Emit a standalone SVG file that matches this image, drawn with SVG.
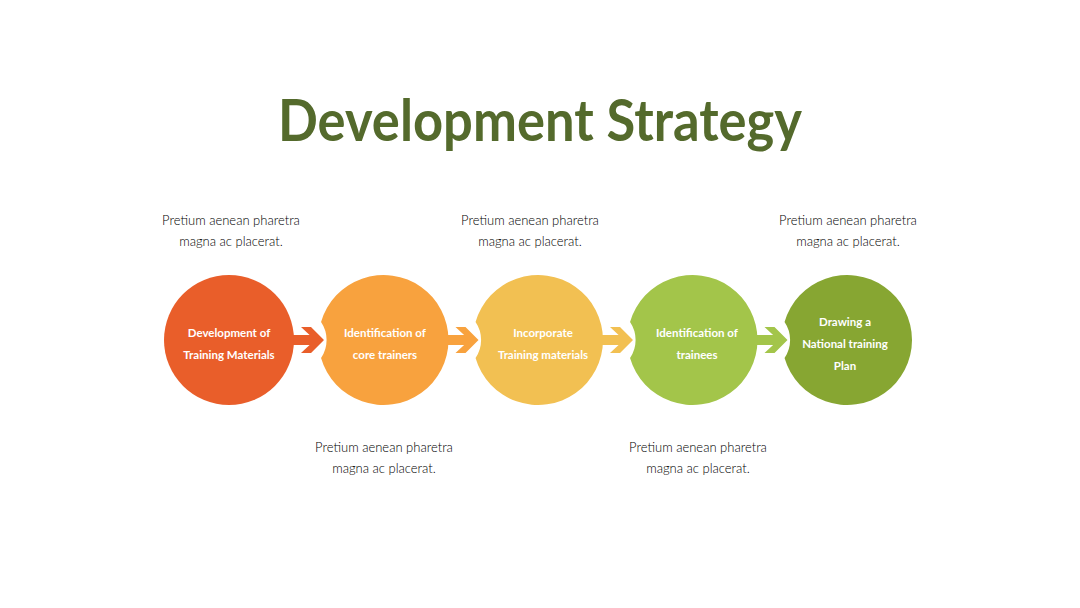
<svg xmlns="http://www.w3.org/2000/svg" width="1080" height="608" viewBox="0 0 1080 608">
<style>
.title{font-family:Lato,"Open Sans","Liberation Sans",sans-serif;font-weight:700;font-size:57px;fill:#546A2C}
.desc{font-family:Lato,"Open Sans","Liberation Sans",sans-serif;font-weight:300;font-size:13px;fill:#000}
.lbl{font-family:Lato,"Open Sans","Liberation Sans",sans-serif;font-weight:700;font-size:11.5px;fill:#fff}
</style>
<rect width="1080" height="608" fill="#fff"/>
<text class="title" x="540" y="141" text-anchor="middle" textLength="524" lengthAdjust="spacingAndGlyphs">Development Strategy</text>

<g id="connectors">
<path fill="#E95E2A" d="M291,335 L309.6,335 L301,327 L311,327 L324,340 L311,353 L301,353 L309.6,345 L291,345 Z"/>
<path fill="#F8A23E" d="M445.5,335 L464.1,335 L455.5,327 L465.5,327 L478.5,340 L465.5,353 L455.5,353 L464.1,345 L445.5,345 Z"/>
<path fill="#F2C052" d="M600,335 L618.6,335 L610,327 L620,327 L633,340 L620,353 L610,353 L618.6,345 L600,345 Z"/>
<path fill="#A3C54A" d="M754.5,335 L773.1,335 L764.5,327 L774.5,327 L787.5,340 L774.5,353 L764.5,353 L773.1,345 L754.5,345 Z"/>
</g>

<g id="node1">
<circle cx="229" cy="340" r="65" fill="#E95E2A"/>
<text class="lbl" text-anchor="middle" x="229" y="337">Development of</text>
<text class="lbl" text-anchor="middle" x="229" y="359">Training Materials</text>
</g>
<g id="node2">
<path fill="#F8A23E" d="M321.05,322 A65,65 0 1 1 321.05,358 A32,32 0 0 0 321.05,322 Z"/>
<text class="lbl" text-anchor="middle" x="385" y="337">Identification of</text>
<text class="lbl" text-anchor="middle" x="385" y="359">core trainers</text>
</g>
<g id="node3">
<path fill="#F2C052" d="M475.55,322 A65,65 0 1 1 475.55,358 A32,32 0 0 0 475.55,322 Z"/>
<text class="lbl" text-anchor="middle" x="543" y="337">Incorporate</text>
<text class="lbl" text-anchor="middle" x="543" y="359">Training materials</text>
</g>
<g id="node4">
<path fill="#A3C54A" d="M630.05,322 A65,65 0 1 1 630.05,358 A32,32 0 0 0 630.05,322 Z"/>
<text class="lbl" text-anchor="middle" x="697" y="337">Identification of</text>
<text class="lbl" text-anchor="middle" x="697" y="359">trainees</text>
</g>
<g id="node5">
<path fill="#87A632" d="M784.55,322 A65,65 0 1 1 784.55,358 A32,32 0 0 0 784.55,322 Z"/>
<text class="lbl" text-anchor="middle" x="845" y="326">Drawing a</text>
<text class="lbl" text-anchor="middle" x="845" y="348">National training</text>
<text class="lbl" text-anchor="middle" x="845" y="370">Plan</text>
</g>

<g id="desc1">
<text class="desc" text-anchor="middle" x="231" y="225">Pretium aenean pharetra</text>
<text class="desc" text-anchor="middle" x="231" y="246">magna ac placerat.</text>
</g>
<g id="desc2">
<text class="desc" text-anchor="middle" x="384" y="452">Pretium aenean pharetra</text>
<text class="desc" text-anchor="middle" x="384" y="473">magna ac placerat.</text>
</g>
<g id="desc3">
<text class="desc" text-anchor="middle" x="530" y="225">Pretium aenean pharetra</text>
<text class="desc" text-anchor="middle" x="530" y="246">magna ac placerat.</text>
</g>
<g id="desc4">
<text class="desc" text-anchor="middle" x="698" y="452">Pretium aenean pharetra</text>
<text class="desc" text-anchor="middle" x="698" y="473">magna ac placerat.</text>
</g>
<g id="desc5">
<text class="desc" text-anchor="middle" x="848" y="225">Pretium aenean pharetra</text>
<text class="desc" text-anchor="middle" x="848" y="246">magna ac placerat.</text>
</g>
</svg>
